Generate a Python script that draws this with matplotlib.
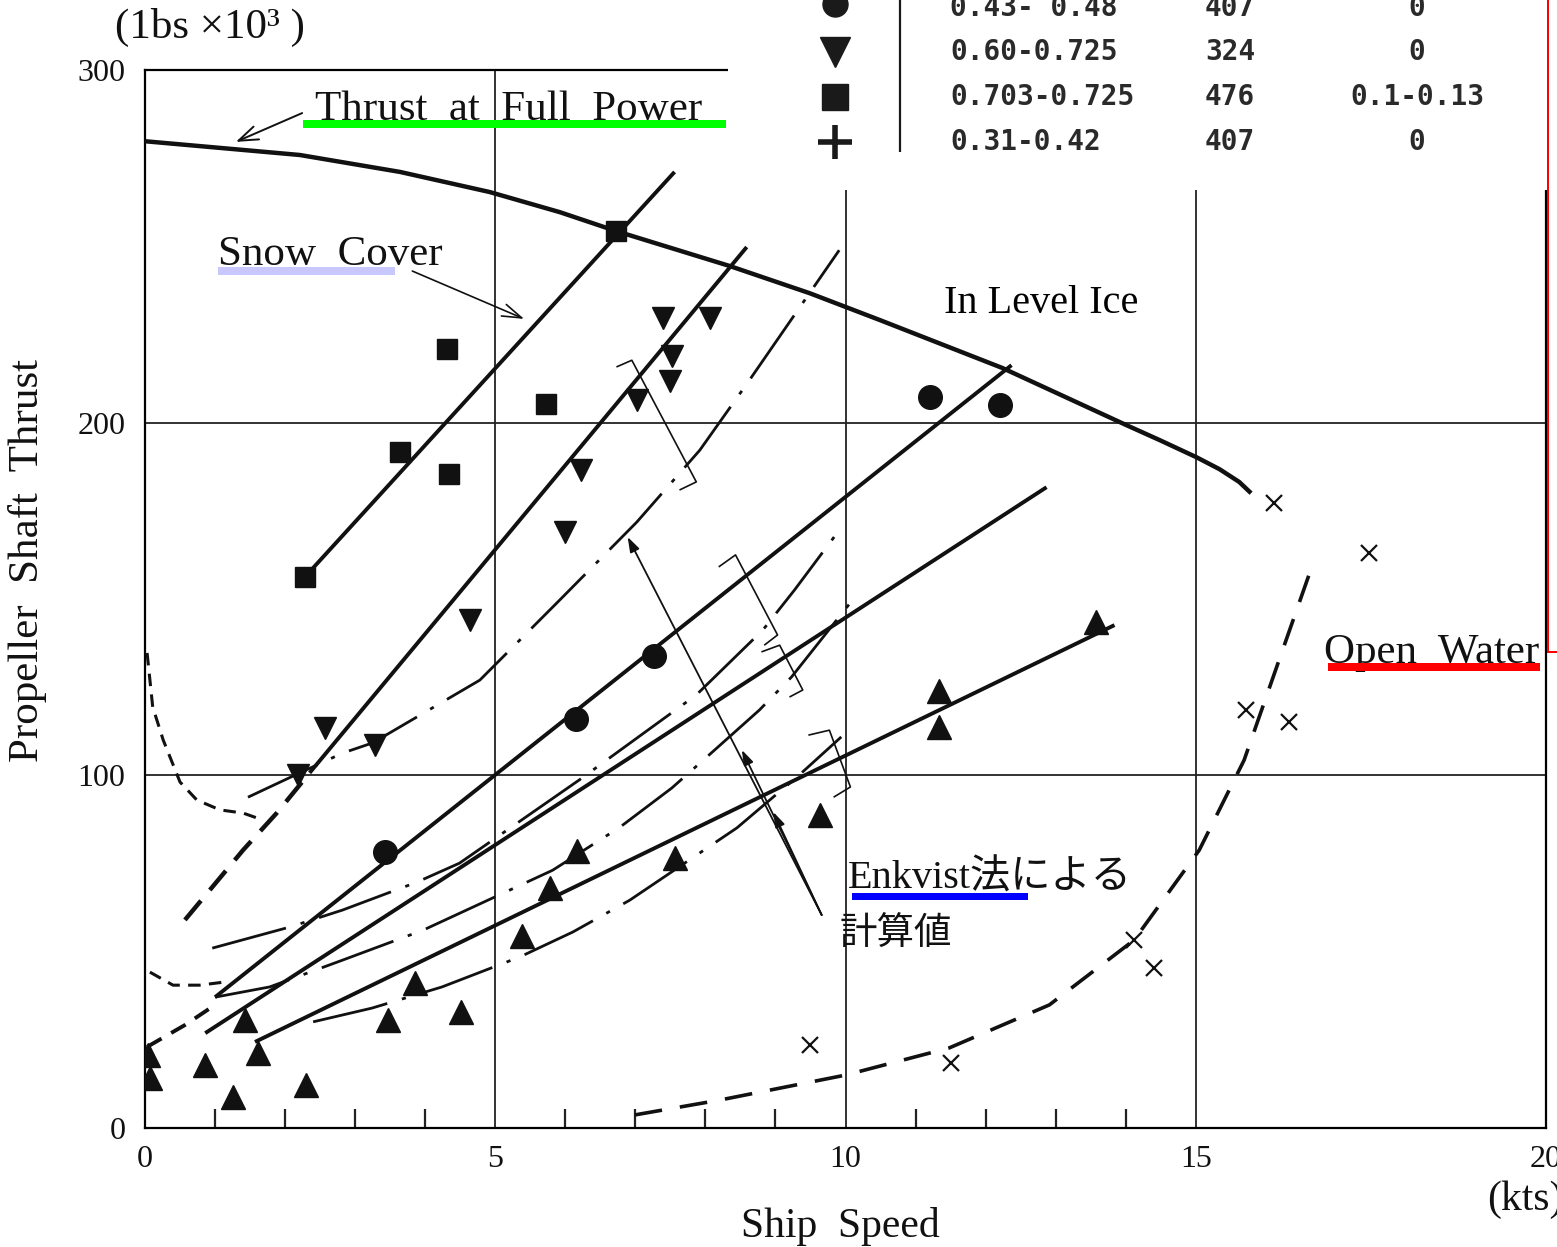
import matplotlib.pyplot as plt
from matplotlib.lines import Line2D
from matplotlib.patches import Rectangle

plt.rcParams['lines.scale_dashes'] = False
plt.rcParams['lines.solid_capstyle'] = 'butt'
serif = ['Liberation Serif', 'Noto Sans CJK JP', 'DejaVu Serif']

# ---- measured thrust in level ice (ship speed kts, thrust 1000 lbs) ----
sq_x = [2.28, 4.31, 3.64, 4.34, 5.73, 6.73]
sq_y = [156.2, 220.9, 191.7, 185.4, 205.3, 254.3]

dtri_x = [7.39, 8.06, 7.53, 7.49, 7.03, 6.23, 5.99, 4.64, 2.57, 3.28, 2.18]
dtri_y = [229.7, 229.7, 218.9, 211.8, 206.4, 186.6, 169.0, 144.0, 113.4, 108.6, 100.1]

circ_x = [11.20, 12.20, 7.26, 6.15, 3.42]
circ_y = [207.3, 205.0, 133.8, 116.0, 78.3]

utri_x = [13.58, 11.34, 11.34, 9.63, 7.56, 6.16, 5.78, 5.38, 3.85, 3.47, 4.51,
          1.43, 1.61, 0.86, 1.26, 2.30, 0.04, 0.07]
utri_y = [143.5, 123.9, 113.7, 88.7, 76.6, 78.5, 68.0, 54.4, 41.1, 30.6, 32.9,
          30.6, 21.3, 17.9, 8.8, 12.2, 20.7, 14.2]

# open water
ow_x = [16.12, 17.48, 15.72, 16.33, 14.12, 14.41, 9.49, 11.51]
ow_y = [177.2, 163.0, 118.5, 115.1, 53.3, 45.4, 23.5, 18.4]

# thrust at full power
full_x = [0.0, 2.21, 3.64, 4.92, 5.92, 6.73, 8.35, 9.49, 10.49, 12.24, 14.01,
          14.48, 15.01, 15.34, 15.62, 15.79]
full_y = [279.8, 275.9, 271.1, 265.4, 259.7, 254.3, 244.4, 236.7, 229.1, 215.5, 199.3,
          195.1, 190.2, 186.8, 183.2, 180.0]

# fitted lines through each series
fit_sq = ([2.28, 7.56], [156.2, 271.1])
fit_dtri = ([2.35, 8.59], [100.7, 249.8])
fit_circ = ([1.00, 12.37], [37.1, 216.3])
fit_mid = ([0.86, 12.87], [26.9, 181.7])
fit_utri = ([1.57, 13.84], [24.4, 142.6])

# Enkvist calculated curves
enk1 = ([1.47, 2.21, 2.82, 3.25, 4.78, 5.92, 7.02, 7.92, 8.63, 9.91],
        [93.8, 100.7, 106.3, 109.2, 127.0, 149.7, 171.8, 192.2, 212.1, 248.9])
enk2 = ([0.96, 2.07, 2.82, 3.88, 4.49, 6.20, 7.87, 8.82, 9.27, 9.91],
        [51.0, 57.0, 61.8, 69.7, 75.1, 98.7, 122.8, 141.2, 152.5, 169.5])
enk3 = ([1.00, 1.78, 2.82, 3.97, 5.82, 6.78, 7.52, 8.02, 8.77, 9.23, 10.10],
        [37.1, 40.0, 47.6, 56.1, 73.1, 85.3, 96.4, 105.2, 118.5, 127.9, 149.7])
enk4 = ([2.40, 3.24, 4.24, 5.35, 6.11, 6.92, 8.45, 9.34, 9.94],
        [30.1, 34.0, 40.0, 48.5, 55.6, 64.6, 85.1, 100.1, 110.9])

# low speed dashed branches
low_a = ([0.03, 0.11, 0.26, 0.50, 0.74, 1.07, 1.40, 1.60],
         [134.7, 119.4, 110.0, 98.1, 93.0, 90.2, 89.3, 87.9])
low_b = ([0.57, 1.40, 1.88, 2.35], [59.0, 78.8, 89.3, 100.7])
low_c = ([0.07, 0.40, 0.78, 1.14], [44.2, 40.5, 40.5, 41.4])
low_d = ([0.03, 0.57, 1.00], [23.0, 29.2, 34.9])

# open water thrust curve
ow_curve = ([6.99, 8.20, 10.0, 11.48, 12.91, 14.12, 15.05, 15.69, 16.19, 16.69],
            [3.7, 7.9, 15.0, 22.7, 34.9, 53.3, 78.8, 104.3, 132.7, 161.0])

# range brackets
brackets = [
    ([6.73, 6.95, 7.87, 7.63], [215.8, 217.7, 183.2, 180.9]),
    ([8.19, 8.43, 9.03, 8.84], [159.1, 162.5, 139.8, 136.9]),
    ([8.80, 9.06, 9.39, 9.20], [135.0, 136.9, 124.2, 122.2]),
    ([9.47, 9.77, 10.07, 9.83], [111.4, 112.8, 96.7, 93.8]),
]

# legend table
tbl_markers = ['o', 'v', 's', '+']
tbl_range = ['0.43- 0.48', '0.60-0.725', '0.703-0.725', '0.31-0.42']
tbl_mid = ['407', '324', '476', '407']
tbl_last = ['0', '0', '0.1-0.13', '0']

W, H = 1557, 1247


def fx(px):
    return px / W


def fy(py):
    return 1 - py / H


fig = plt.figure(figsize=(W / 100, H / 100), dpi=100)
ax = fig.add_axes([fx(145), fy(1128), fx(1546) - fx(145), fy(70) - fy(1128)])
ax.set_xlim(0, 20)
ax.set_ylim(0, 300)

for s in ax.spines.values():
    s.set_linewidth(1.6)
for gx in [5, 10, 15]:
    ax.axvline(gx, color='#222222', lw=1.3, zorder=1)
for gy in [100, 200]:
    ax.axhline(gy, color='#222222', lw=1.3, zorder=1)

ax.set_xticks([0, 5, 10, 15, 20])
ax.set_xticklabels(['0', '5', '10', '15', '20'], fontfamily=serif, fontsize=23, color='#111111')
ax.set_xticks([1, 2, 3, 4, 6, 7, 8, 9, 11, 12, 13, 14], minor=True)
ax.set_yticks([0, 100, 200, 300])
ax.set_yticklabels(['0', '100', '200', '300'], fontfamily=serif, fontsize=23, color='#111111')
ax.tick_params(which='major', length=0, pad=12)
ax.tick_params(axis='y', which='major', pad=14)
ax.tick_params(which='minor', direction='in', length=14, width=1.6, color='#222222')

k = '#111111'
ax.plot(full_x, full_y, color=k, lw=3.2, zorder=3)
for fx_, fy_ in [fit_sq, fit_dtri, fit_circ, fit_mid, fit_utri]:
    ax.plot(fx_, fy_, color=k, lw=2.8, zorder=3)

enk_style = dict(color=k, lw=2.0, linestyle=(0, (55, 11, 3, 11)), zorder=3)
for ex, ey in [enk1, enk2, enk3, enk4]:
    ax.plot(ex, ey, **enk_style)

ax.plot(*low_a, color=k, lw=2.2, linestyle=(0, (9, 6)), zorder=3)
ax.plot(*low_b, color=k, lw=3.2, linestyle=(0, (18, 10)), zorder=3)
ax.plot(*low_c, color=k, lw=2.2, linestyle=(0, (9, 6)), zorder=3)
ax.plot(*low_d, color=k, lw=2.8, linestyle=(0, (12, 8)), zorder=3)
ax.plot(*ow_curve, color=k, lw=2.6, linestyle=(0, (20, 13)), zorder=3)

for bx, by in brackets:
    ax.plot(bx, by, color=k, lw=1.2, zorder=3)

ax.plot(sq_x, sq_y, 's', color=k, ms=14, zorder=4)
ax.plot(dtri_x, dtri_y, 'v', color=k, ms=16, zorder=4)
ax.plot(circ_x, circ_y, 'o', color=k, ms=17, zorder=4)
ax.plot(utri_x, utri_y, '^', color=k, ms=17, zorder=4)
ax.plot(ow_x, ow_y, 'x', color=k, ms=11, mew=1.6, zorder=4)

# annotations
txt = dict(fontfamily=serif, fontsize=31, color='#111111', va='baseline')
ax.text(2.43, 285.8, 'Thrust  at  Full  Power', **txt)
ax.text(1.04, 244.7, 'Snow  Cover', **txt)
ax.text(16.83, 131.8, 'Open  Water', **txt)
ax.text(11.41, 231.1, 'In Level Ice', fontfamily=serif, fontsize=29, color='black', va='baseline')
ax.text(10.03, 68.0, 'Enkvist法による', fontfamily=serif, fontsize=29, color='#111111', va='baseline')
ax.text(9.91, 51.9, '計算値', fontfamily=serif, fontsize=27, color='#111111', va='baseline')

ax.annotate('', xy=(1.26, 279.3), xytext=(2.28, 288.1),
            arrowprops=dict(arrowstyle='->,head_length=1.4,head_width=0.5', lw=1.4, color=k))
ax.annotate('', xy=(5.45, 229.1), xytext=(3.78, 243.3),
            arrowprops=dict(arrowstyle='->,head_length=1.4,head_width=0.45', lw=1.2, color=k))
for tx, ty in [(6.89, 167.6), (8.52, 107.2), (8.97, 89.6)]:
    ax.annotate('', xy=(tx, ty), xytext=(9.66, 60.4),
                arrowprops=dict(arrowstyle='-|>,head_length=0.9,head_width=0.3', lw=1.3, color=k,
                                shrinkA=0, shrinkB=0))

# axis titles
fig.text(fx(115), fy(38), '(1bs ×10³ )', fontfamily=serif, fontsize=31, va='baseline', color='#111111')
fig.text(fx(28), fy(560), 'Propeller  Shaft  Thrust', fontfamily=serif, fontsize=31,
         rotation=90, ha='center', va='center', color='#111111')
fig.text(fx(840), fy(1226), 'Ship  Speed', fontfamily=serif, fontsize=30, ha='center', va='center',
         color='#111111')
fig.text(fx(1487), fy(1200), '(kts)', fontfamily=serif, fontsize=30, va='center', color='#111111')

# legend table panel
fig.add_artist(Rectangle((fx(728), fy(190)), fx(1557) - fx(728), fy(0) - fy(190),
                         transform=fig.transFigure, facecolor='white', edgecolor='none', zorder=5))
row_y = [8, 52, 97, 142]
msz = {'o': 18, 'v': 22, 's': 19, '+': 24}
for m, r, a, b, yy in zip(tbl_markers, tbl_range, tbl_mid, tbl_last, row_y):
    fig.add_artist(Line2D([fx(835)], [fy(yy - 4 if m == 'o' else yy)], marker=m, ms=msz[m],
                          mew=4 if m == '+' else 1, color='#1a1a1a', linestyle='none',
                          transform=fig.transFigure, zorder=6))
    tk = dict(fontfamily='DejaVu Sans Mono', fontsize=20, fontweight='bold', va='center',
              color='#2a2a2a', zorder=6)
    fig.text(fx(950), fy(yy), r, **tk)
    fig.text(fx(1205), fy(yy), a, **tk)
    fig.text(fx(1417), fy(yy), b, ha='center', **tk)
fig.add_artist(Line2D([fx(900), fx(900)], [fy(0), fy(152)], color='#1a1a1a', lw=1.6,
                      transform=fig.transFigure, zorder=6))

# highlight marks
for (x0, y0, x1, y1), c in [((303, 120, 726, 128), '#00ff00'),
                            ((218, 267, 395, 275), '#c8c8ff'),
                            ((852, 893, 1028, 900), '#0000ff'),
                            ((1328, 663, 1540, 671), '#ff0000'),
                            ((1547, 0, 1549, 653), '#ff0000'),
                            ((1547, 651, 1557, 653), '#ff0000')]:
    fig.add_artist(Rectangle((fx(x0), fy(y1)), fx(x1) - fx(x0), fy(y0) - fy(y1),
                             transform=fig.transFigure, facecolor=c, edgecolor='none', zorder=7))

fig.savefig('out.png', dpi=100, facecolor='white')
